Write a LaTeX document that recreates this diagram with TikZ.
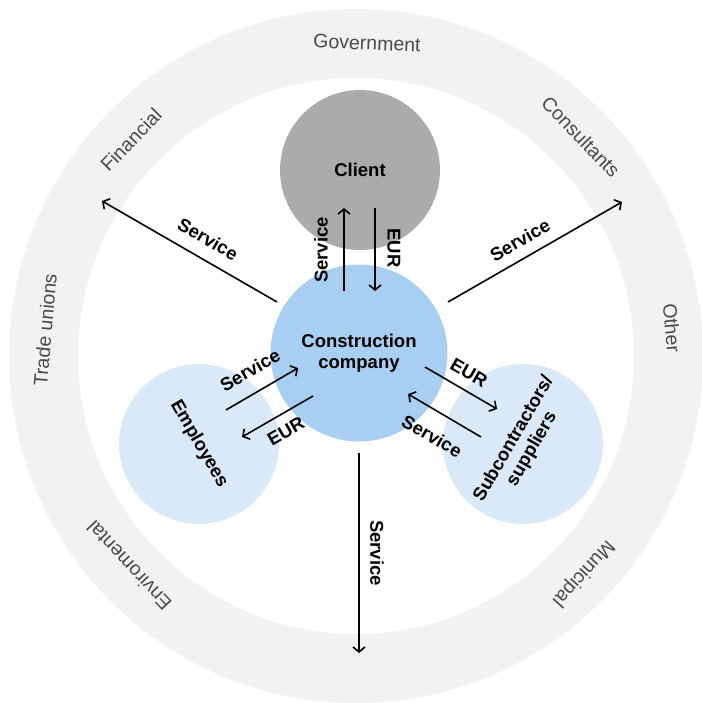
\documentclass[tikz,border=0pt]{standalone}
\usepackage{fontspec}
\setmainfont{Liberation Sans}
\usetikzlibrary{arrows.meta}
\definecolor{ringfill}{HTML}{F2F2F2}
\definecolor{ringtxt}{HTML}{4A4A4A}
\definecolor{clientfill}{HTML}{ABABAB}
\definecolor{ccfill}{HTML}{A8CFF2}
\definecolor{lightfill}{HTML}{DAE9F8}
\begin{document}
\begin{tikzpicture}[x=1pt,y=-1pt,
  ringlab/.style={text=ringtxt, font=\fontsize{19.5}{23}\selectfont, inner sep=0pt},
  boldlab/.style={font=\bfseries\fontsize{18.5}{21}\selectfont, inner sep=0pt, align=center},
  bigcirc/.style={circle, inner sep=0pt, minimum size=160pt, font=\bfseries\fontsize{18.5}{21}\selectfont, align=center},
  arr/.style={line width=1.6pt, -{Straight Barb[length=5pt,width=12pt]}}]
\useasboundingbox (0,0) rectangle (701,703);
% outer ring
\fill[ringfill, even odd rule] (356,356) circle (347pt) (356,356) circle (278pt);
% ring labels
\node[ringlab, rotate=-2]   (gov)  at (367,43)  {Government};
\node[ringlab, rotate=-46]  (cons) at (581,137) {Consultants};
\node[ringlab, rotate=-85]  (oth)  at (672,328) {Other};
\node[ringlab, rotate=-132] (mun)  at (583,573) {Municipal};
\node[ringlab, rotate=133]  (env)  at (129,566) {Enviromental};
\node[ringlab, rotate=85]   (tu)   at (45,330)  {Trade unions};
\node[ringlab, rotate=46]   (fin)  at (131,140) {Financial};
% circles
\node[bigcirc, fill=clientfill] (client) at (360,170) {Client};
\node[bigcirc, fill=lightfill, rotate=-60] (emp) at (199,444) {Employees};
\node[bigcirc, fill=lightfill, rotate=60] (sub) at (523,444) {Subcontractors/\\suppliers};
\node[bigcirc, fill=ccfill, minimum size=177pt] (cc) at (359,353) {Construction\\company};
% arrow end points
\coordinate (f1) at (277,302); \coordinate (f2) at (102,201);
\coordinate (c1) at (448,302); \coordinate (c2) at (622,202);
\coordinate (s1) at (344,291); \coordinate (s2) at (344,208);
\coordinate (e1) at (375,208); \coordinate (e2) at (375,291);
\coordinate (es1) at (226,410); \coordinate (es2) at (298,368);
\coordinate (ee1) at (313,396); \coordinate (ee2) at (242,437);
\coordinate (ue1) at (425,367); \coordinate (ue2) at (497,409);
\coordinate (us1) at (481,437); \coordinate (us2) at (408,394);
\coordinate (b1) at (359,453); \coordinate (b2) at (359,653);
% arrows
\draw[arr] (f1) -- (f2);
\draw[arr] (c1) -- (c2);
\draw[arr] (s1) -- (s2);
\draw[arr] (e1) -- (e2);
\draw[arr] (es1) -- (es2);
\draw[arr] (ee1) -- (ee2);
\draw[arr] (ue1) -- (ue2);
\draw[arr] (us1) -- (us2);
\draw[arr] (b1) -- (b2);
% arrow labels
\node[boldlab, rotate=-30] (lf) at (208,239) {Service};
\node[boldlab, rotate=30]  (lc) at (520,240) {Service};
\node[boldlab, rotate=90]  (ls) at (321,250) {Service};
\node[boldlab, rotate=-90] (le) at (394,248) {EUR};
\node[boldlab, rotate=30]  (les) at (250,370) {Service};
\node[boldlab, rotate=30]  (lee) at (286,431) {EUR};
\node[boldlab, rotate=-30] (lue) at (469,373) {EUR};
\node[boldlab, rotate=-30] (lus) at (432,436) {Service};
\node[boldlab, rotate=-90] (lb) at (377,553) {Service};
\end{tikzpicture}
\end{document}
